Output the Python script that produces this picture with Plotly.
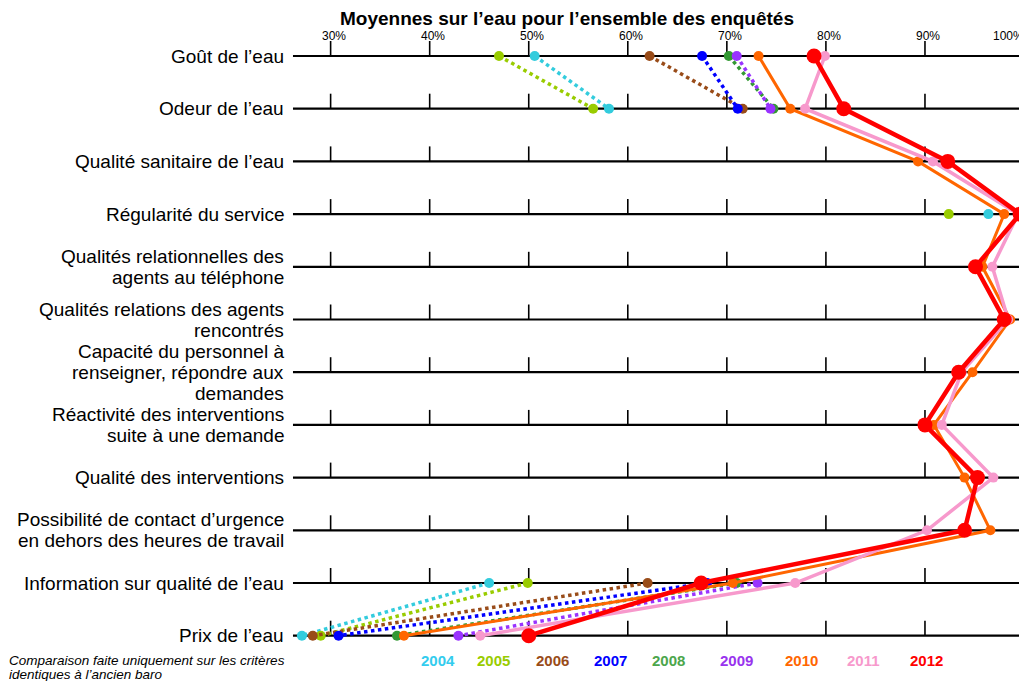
import plotly.graph_objects as go

# ---- data ----
criteria = [
    "Goût de l’eau",
    "Odeur de l’eau",
    "Qualité sanitaire de l’eau",
    "Régularité du service",
    "Qualités relationnelles des<br>agents au téléphone",
    "Qualités relations des agents<br>rencontrés",
    "Capacité du personnel à<br>renseigner, répondre aux<br>demandes",
    "Réactivité des interventions<br>suite à une demande",
    "Qualité des interventions",
    "Possibilité de contact d’urgence<br>en dehors des heures de travail",
    "Information sur qualité de l’eau",
    "Prix de l’eau",
]
N = None
years = ["2004", "2005", "2006", "2007", "2008", "2009", "2010", "2011", "2012"]
v2004 = [50.6, 58.1, N, 96.4, N, N, N, N, N, N, 46.0, 27.1]
v2005 = [47.0, 56.5, N, 92.4, N, N, N, N, N, N, 49.9, 29.0]
v2006 = [62.2, 71.6, N, N, N, N, N, N, N, N, 62.0, 28.2]
v2007 = [67.5, 71.1, N, N, N, N, N, N, N, N, 68.0, 30.8]
v2008 = [70.2, 74.7, N, N, N, N, N, N, N, N, 71.0, 36.7]
v2009 = [71.0, 74.4, N, N, N, N, N, N, N, N, 73.1, 42.9]
v2010 = [73.2, 76.4, 89.3, 98.0, 95.8, 98.6, 94.8, 90.9, 94.0, 96.6, 70.6, 37.4]
v2011 = [79.9, 77.9, 90.8, 99.4, 96.8, 98.4, 93.7, 91.7, 96.9, 90.2, 76.9, 45.1]
v2012 = [78.8, 81.8, 92.3, 99.6, 95.1, 98.0, 93.4, 90.0, 95.3, 94.0, 67.4, 50.0]
series = [v2004, v2005, v2006, v2007, v2008, v2009, v2010, v2011, v2012]
tick_vals = [30, 40, 50, 60, 70, 80, 90, 100]
tick_text = ["30%", "40%", "50%", "60%", "70%", "80%", "90%", "100%"]
title = "Moyennes sur l’eau pour l’ensemble des enquêtés"
footnote_lines = ["Comparaison faite uniquement sur les critères",
                  "identiques à l’ancien baro"]

# ---- styles ----
colors = ["#33CCDD", "#99CC00", "#994C19", "#0000FF", "#339933",
          "#9933FF", "#FF6600", "#F799CC", "#FF0000"]
legend_colors = ["#33CCEE", "#99CC00", "#994C19", "#0000FF", "#4CA64C",
                 "#9933EE", "#FF6600", "#F799CC", "#FF0000"]
dashes = ["dot"] * 6 + ["solid"] * 3
widths = [3.5] * 6 + [3, 3.5, 4.5]
msizes = [10] * 6 + [10, 10, 15]
legend_x = [430, 486, 545, 603, 661, 729, 794, 856, 919]
FONT = "Liberation Sans, Arial, sans-serif"

# page body has an 8px margin, so the figure is sized to the remaining view
W, H = 1019, 673
ML, MR, MT, MB = 283.4, 0, 28, 31
plot_w = W - ML - MR
plot_h = H - MT - MB
rows = list(range(len(criteria)))
ROW_PX = 52.7

fig = go.Figure()
for yr, vals, c, d, w, ms in zip(years, series, colors, dashes, widths, msizes):
    fig.add_trace(go.Scatter(
        x=vals, y=rows, mode="lines+markers", name=yr,
        line=dict(color=c, width=w, dash=d),
        marker=dict(color=c, size=ms),
        connectgaps=False, cliponaxis=False, showlegend=False,
    ))

# row base lines and small ticks
shapes = []
tick_h = 15 / ROW_PX
for r in rows:
    shapes.append(dict(type="line", xref="x", yref="y", x0=26.2, x1=100, y0=r, y1=r,
                       line=dict(color="black", width=2.2), layer="below"))
    for t in tick_vals:
        shapes.append(dict(type="line", xref="x", yref="y", x0=t, x1=t, y0=r, y1=r - tick_h,
                           line=dict(color="black", width=1.6), layer="below"))

annotations = []
# percentage scale labels above the first row (last one kept inside the page)
for i, (t, tt) in enumerate(zip(tick_vals, tick_text)):
    last = i == len(tick_vals) - 1
    annotations.append(dict(text=tt, x=t, xref="x", y=1, yref="paper", yanchor="middle",
                            xanchor="right" if last else "center", xshift=2 if last else 3,
                            showarrow=False,
                            font=dict(size=12, family=FONT, color="black")))
# category labels, one annotation per text line
LINE_SP = 21
for r, lab in zip(rows, criteria):
    parts = lab.split("<br>")
    n = len(parts)
    for j, p in enumerate(parts):
        annotations.append(dict(text=p, x=0, xref="paper", xanchor="right", xshift=-5,
                                y=r, yref="y", yanchor="middle",
                                yshift=-(j - (n - 1) / 2) * LINE_SP,
                                showarrow=False,
                                font=dict(size=19, family=FONT, color="black")))
# year legend
for yr, c, lx in zip(years, legend_colors, legend_x):
    annotations.append(dict(text="<b>" + yr + "</b>", x=(lx - ML) / plot_w, xref="paper",
                            xanchor="center",
                            y=(H - MB - 652) / plot_h, yref="paper", yanchor="middle",
                            showarrow=False, font=dict(color=c, size=15, family=FONT)))
# footnote
for k, line in enumerate(footnote_lines):
    annotations.append(dict(text="<i>" + line + "</i>", x=-ML / plot_w, xref="paper",
                            xanchor="left", align="left",
                            y=(H - MB - (652.5 + 14 * k)) / plot_h, yref="paper",
                            yanchor="middle", showarrow=False,
                            font=dict(color="black", size=13.5, family=FONT)))

fig.update_layout(
    width=W, height=H,
    margin=dict(l=ML, r=MR, t=MT, b=MB, autoexpand=False),
    paper_bgcolor="white", plot_bgcolor="white",
    font=dict(family=FONT, color="black"),
    title=dict(text="<b>" + title + "</b>", x=559 / W, xanchor="center",
               y=1 - 10 / H, yanchor="middle", xref="container", yref="container",
               font=dict(size=19, family=FONT, color="black")),
    shapes=shapes,
    annotations=annotations,
    xaxis=dict(range=[26.0, 100.3], side="top", tickvals=tick_vals,
               showticklabels=False, ticks="", showgrid=False, zeroline=False,
               showline=False, automargin=False),
    yaxis=dict(range=[11 + 14.3 / ROW_PX, -20 / ROW_PX], tickvals=rows,
               showticklabels=False, automargin=False,
               ticks="", showgrid=False, zeroline=False, showline=False),
)

fig.write_html("out.html")
